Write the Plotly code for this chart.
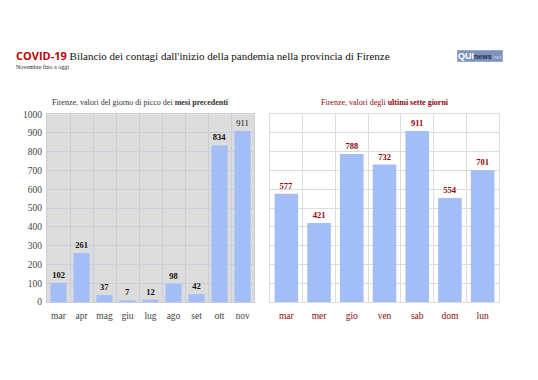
import plotly.graph_objects as go

months = ["mar", "apr", "mag", "giu", "lug", "ago", "set", "ott", "nov"]
month_vals = [102, 261, 37, 7, 12, 98, 42, 834, 911]
days = ["mar", "mer", "gio", "ven", "sab", "dom", "lun"]
day_vals = [577, 421, 788, 732, 911, 554, 701]
y_ticks = [0, 100, 200, 300, 400, 500, 600, 700, 800, 900, 1000]

SERIF = "Liberation Serif"
BAR = "#a3bdf7"
DARKRED = "#8b0a0a"

# page body has an 8px margin: work in a 530x372 figure, reference px minus 8
W, H, OFF = 530, 372, 8


def px(x):
    return (x - OFF) / W


def py(y):
    return 1 - (y - OFF) / H


fig = go.Figure()
fig.add_trace(go.Bar(
    x=months, y=month_vals, xaxis="x", yaxis="y",
    marker=dict(color=BAR, line=dict(width=0)), width=0.7,
    text=[f"<b>{v}</b>" if i < len(month_vals) - 1 else str(v) for i, v in enumerate(month_vals)],
    textposition="outside", cliponaxis=False,
    textfont=dict(family=SERIF, size=8.5, color="#111111"),
    hoverinfo="skip", showlegend=False,
))
fig.add_trace(go.Bar(
    x=days, y=day_vals, xaxis="x2", yaxis="y2",
    marker=dict(color=BAR, line=dict(width=0)), width=0.72,
    text=[f"<b>{v}</b>" for v in day_vals],
    textposition="outside", cliponaxis=False,
    textfont=dict(family=SERIF, size=8.5, color=DARKRED),
    hoverinfo="skip", showlegend=False,
))

y0, y1 = py(305), py(112)
fig.update_layout(
    width=W, height=H,
    margin=dict(l=0, r=0, t=0, b=0),
    paper_bgcolor="white", plot_bgcolor="white",
    font=dict(family=SERIF, size=9, color="#333333"),
    xaxis=dict(domain=[px(47), px(254)], anchor="y", type="category",
               tickson="boundaries", showgrid=True, gridcolor="#c9cdd8", gridwidth=1,
               ticks="", tickangle=0, ticklabelstandoff=5,
               tickfont=dict(family=SERIF, size=9.5, color="#444444"),
               showline=True, linecolor="#c9cdd8", mirror=True, fixedrange=True),
    yaxis=dict(domain=[y0, y1], anchor="x", range=[0, 1000], tickvals=y_ticks,
               showgrid=True, gridcolor="#c9cdd8", gridwidth=1, zeroline=False,
               ticks="", ticklabelstandoff=2,
               tickfont=dict(family=SERIF, size=9.5, color="#444444"),
               showline=True, linecolor="#c9cdd8", mirror=True, fixedrange=True),
    xaxis2=dict(domain=[px(270), px(499)], anchor="y2", type="category",
                tickson="boundaries", showgrid=True, gridcolor="#dcdcdc", gridwidth=1,
                ticks="", tickangle=0, ticklabelstandoff=5,
                tickfont=dict(family=SERIF, size=9.5, color=DARKRED),
                showline=True, linecolor="#dcdcdc", mirror=True, fixedrange=True),
    yaxis2=dict(domain=[y0, y1], anchor="x2", range=[0, 1000], tickvals=y_ticks,
                showticklabels=False, showgrid=True, gridcolor="#dcdcdc", gridwidth=1,
                zeroline=False, ticks="",
                showline=True, linecolor="#dcdcdc", mirror=True, fixedrange=True),
    shapes=[dict(type="rect", xref="x domain", yref="y domain", x0=0, x1=1, y0=0, y1=1,
                 fillcolor="#dcdcdc", line=dict(width=0), layer="below")],
    annotations=[
        dict(text="<span style='font-family:Open Sans;font-weight:bold;color:#c00000'>COVID-19</span> Bilancio dei contagi dall'inizio della pandemia nella provincia di Firenze",
             x=px(14), y=py(52), xref="paper", yref="paper", xanchor="left", yanchor="middle",
             showarrow=False, font=dict(family=SERIF, size=11, color="#111111")),
        dict(text="Novembre fino a oggi", x=px(14), y=py(64), xref="paper", yref="paper",
             xanchor="left", yanchor="middle", showarrow=False,
             font=dict(family=SERIF, size=6, color="#222222")),
        dict(text="Firenze, valori del giorno di picco dei <b>mesi precedenti</b>",
             x=px(140), y=py(100), xref="paper", yref="paper", xanchor="center", yanchor="middle",
             showarrow=False, font=dict(family=SERIF, size=8, color="#333333")),
        dict(text="Firenze, valori degli <b>ultimi sette giorni</b>",
             x=px(385), y=py(100), xref="paper", yref="paper", xanchor="center", yanchor="middle",
             showarrow=False, font=dict(family=SERIF, size=8, color=DARKRED)),
        dict(text="<b>QUI</b><span style='color:#1a2a50;font-size:7px'><b>news</b></span><span style='color:#c9d4ea;font-size:6px'>.net</span>",
             x=px(480), y=py(52), xref="paper", yref="paper", xanchor="center", yanchor="middle",
             showarrow=False, bgcolor="#7e93bb", bordercolor="#9aaccd", borderwidth=1, borderpad=0,
             font=dict(family="Liberation Sans", size=9, color="white")),
    ],
)

fig.write_html("out.html")
